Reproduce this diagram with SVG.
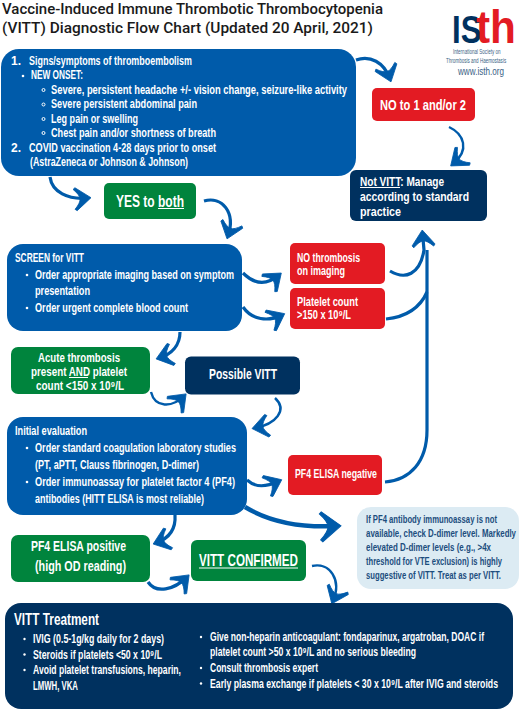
<svg xmlns="http://www.w3.org/2000/svg" width="520" height="711" viewBox="0 0 520 711">
<style>
text{font-family:"Liberation Sans Narrow","Liberation Sans",sans-serif;font-weight:700;fill:#fff;font-size:12px}
.title{font-family:"Roboto","Liberation Sans",sans-serif;font-weight:500;fill:#1a1a1a;font-size:15px}
.blue{fill:#005BAA}.navy{fill:#00315F}.red{fill:#E31B23}.green{fill:#00843D}.light{fill:#DCEBF3}
.dk{fill:#1C4E7E;font-size:10.500px}
.arrow{fill:none;stroke:#005BAA;stroke-width:3.2}
.thin{stroke-width:2.4}
.thick{stroke-width:4.5}
.bul{fill:#fff}
.ring{fill:none;stroke:#fff}
.ul{stroke:#fff;stroke-width:1}
.logo{font-weight:400;fill:#3B5F85}
</style>
<defs>
<marker id="head" markerUnits="userSpaceOnUse" markerWidth="26" markerHeight="30" refX="20" refY="15" orient="auto" viewBox="0 0 26 30">
<path d="M23 15L8 3.500L6 5Q12 11 12 15Q12 19 6 25L8 26.500Z" fill="#005BAA" stroke="#005BAA" stroke-width=".8"/>
</marker>
<marker id="headL" markerUnits="userSpaceOnUse" markerWidth="32" markerHeight="36" refX="25" refY="18" orient="auto" viewBox="0 0 32 36">
<path d="M29 18L10 3L8 5Q16 13 16 18Q16 23 8 31L10 33Z" fill="#005BAA" stroke="#005BAA"/>
</marker>
</defs>
<rect width="520" height="711" fill="#fff"/>
<g id="title">
<text class="title" x="2" y="14" textLength="381" lengthAdjust="spacingAndGlyphs">Vaccine-Induced Immune Thrombotic Thrombocytopenia</text>
<text class="title" x="2" y="33" textLength="371" lengthAdjust="spacingAndGlyphs">(VITT) Diagnostic Flow Chart (Updated 20 April, 2021)</text>
</g>
<g id="logo">
<text transform="translate(452 43) scale(.8 1)" style="font-size:39px;fill:#00315F">IS</text>
<text transform="translate(476 43) scale(.9 1)" style="font-size:47px;fill:#E31B23">th</text>
<text class="logo" transform="translate(453 54) scale(.7 1)" style="font-size:6.500px">International Society on</text>
<text class="logo" transform="translate(446 62.500) scale(.7 1)" style="font-size:6.500px">Thrombosis and Haemostasis</text>
<text class="logo" x="458" y="75" style="font-size:10px" textLength="46" lengthAdjust="spacingAndGlyphs">www.isth.org</text>
</g>
<g id="connectors">
<path class="arrow" marker-end="url(#head)" d="M356 60C370 55 384 62 390 79"/>
<path class="arrow thin" marker-end="url(#head)" d="M449 127C464 134 470 150 453 164"/>
<path class="arrow" marker-end="url(#head)" d="M50 177C52 192 68 200 88 198"/>
<path class="arrow" marker-end="url(#head)" d="M204 201C222 196 236 212 228 236"/>
<path class="arrow" marker-end="url(#head)" d="M243 273C254 284 266 286 279 275"/>
<path class="arrow" marker-end="url(#head)" d="M243 307C252 320 268 322 282 315"/>
<path class="arrow" marker-end="url(#head)" d="M180 332C180 345 172 354 159 358"/>
<path class="arrow thin" marker-end="url(#head)" d="M151 392C155 408 172 408 184 396"/>
<path class="arrow thin" marker-end="url(#head)" d="M275 398C288 410 276 424 255 428"/>
<path class="arrow" d="M385 482C410 480 427 462 427 430V250"/>
<path class="arrow" marker-end="url(#head)" d="M390 271C405 280 420 275 424 250L422.500 233"/>
<path class="arrow" d="M386 319C405 317 420 308 427 292"/>
<path class="arrow" marker-end="url(#head)" d="M247 480C256 488 266 487 279 481"/>
<path class="arrow thick" marker-end="url(#headL)" d="M245 507C270 522 300 528 337 526"/>
<path class="arrow" marker-end="url(#head)" d="M175 515C176 529 170 538 156 543"/>
<path class="arrow" marker-end="url(#head)" d="M148 582C156 594 174 590 187 577"/>
<path class="arrow thin" marker-end="url(#head)" d="M312 566C330 562 342 580 333 601"/>
</g>
<g id="symptoms">
<rect class="blue" x="1" y="49" width="355" height="127" rx="18"/>
<text x="11" y="65">1.</text>
<text x="29" y="65" textLength="163" lengthAdjust="spacingAndGlyphs">Signs/symptoms of thromboembolism</text>
<circle class="bul" cx="23" cy="76" r="1.300"/>
<text x="31" y="79" textLength="52" lengthAdjust="spacingAndGlyphs">NEW ONSET:</text>
<circle class="ring" cx="43.500" cy="90" r="1.500"/>
<text x="51" y="94" textLength="296" lengthAdjust="spacingAndGlyphs">Severe, persistent headache +/- vision change, seizure-like activity</text>
<circle class="ring" cx="43.500" cy="104.500" r="1.500"/>
<text x="51" y="108" textLength="146" lengthAdjust="spacingAndGlyphs">Severe persistent abdominal pain</text>
<circle class="ring" cx="43.500" cy="119" r="1.500"/>
<text x="51" y="123" textLength="87" lengthAdjust="spacingAndGlyphs">Leg pain or swelling</text>
<circle class="ring" cx="43.500" cy="133" r="1.500"/>
<text x="51" y="137" textLength="165" lengthAdjust="spacingAndGlyphs">Chest pain and/or shortness of breath</text>
<text x="11" y="152">2.</text>
<text x="29" y="152" textLength="187" lengthAdjust="spacingAndGlyphs">COVID vaccination 4-28 days prior to onset</text>
<text x="30" y="166" textLength="158" lengthAdjust="spacingAndGlyphs">(AstraZeneca or Johnson &amp; Johnson)</text>
</g>
<g id="no-1-2">
<rect class="red" x="372" y="88" width="103" height="33" rx="5"/>
<text x="380" y="110" style="font-size:14px" textLength="86" lengthAdjust="spacingAndGlyphs">NO to 1 and/or 2</text>
</g>
<g id="not-vitt">
<rect class="navy" x="350" y="170" width="137" height="51" rx="6"/>
<text x="360" y="186" style="font-size:13px" textLength="84" lengthAdjust="spacingAndGlyphs">Not VITT: Manage</text>
<line class="ul" x1="360" y1="187.500" x2="400" y2="187.500"/>
<text x="360" y="201" style="font-size:13px" textLength="109" lengthAdjust="spacingAndGlyphs">according to standard</text>
<text x="360" y="216" style="font-size:13px" textLength="41" lengthAdjust="spacingAndGlyphs">practice</text>
</g>
<g id="yes-both">
<rect class="green" x="104" y="183" width="92" height="36" rx="5"/>
<text x="116" y="207" style="font-size:16px" textLength="68" lengthAdjust="spacingAndGlyphs">YES to both</text>
<line class="ul" x1="158" y1="208.500" x2="184" y2="208.500"/>
</g>
<g id="screen">
<rect class="blue" x="7" y="244" width="235" height="87" rx="16"/>
<text x="15" y="262" textLength="69" lengthAdjust="spacingAndGlyphs">SCREEN for VITT</text>
<circle class="bul" cx="27" cy="275" r="1.300"/>
<text x="35" y="279" textLength="199" lengthAdjust="spacingAndGlyphs">Order appropriate imaging based on symptom</text>
<text x="35" y="295" textLength="55" lengthAdjust="spacingAndGlyphs">presentation</text>
<circle class="bul" cx="27" cy="308" r="1.300"/>
<text x="35" y="312" textLength="153" lengthAdjust="spacingAndGlyphs">Order urgent complete blood count</text>
</g>
<g id="no-thrombosis">
<rect class="red" x="290" y="243" width="95" height="41" rx="5"/>
<text x="297" y="262" textLength="63" lengthAdjust="spacingAndGlyphs">NO thrombosis</text>
<text x="297" y="275" textLength="48" lengthAdjust="spacingAndGlyphs">on imaging</text>
</g>
<g id="platelet-high">
<rect class="red" x="290" y="288" width="95" height="41" rx="5"/>
<text x="297" y="306" textLength="61" lengthAdjust="spacingAndGlyphs">Platelet count</text>
<text x="297" y="319" textLength="54" lengthAdjust="spacingAndGlyphs">&gt;150 x 10⁹/L</text>
</g>
<g id="acute">
<rect class="green" x="11" y="347" width="139" height="47" rx="7"/>
<text x="38" y="362" style="font-size:12.500px" textLength="82" lengthAdjust="spacingAndGlyphs">Acute thrombosis</text>
<text x="31" y="376" style="font-size:12.500px" textLength="96" lengthAdjust="spacingAndGlyphs">present AND platelet</text>
<line class="ul" x1="69" y1="377.500" x2="88" y2="377.500"/>
<text x="36" y="390" style="font-size:12.500px" textLength="88" lengthAdjust="spacingAndGlyphs">count &lt;150 x 10⁹/L</text>
</g>
<g id="possible">
<rect class="navy" x="185" y="356.500" width="115" height="38" rx="6"/>
<text x="209" y="379" style="font-size:15px" textLength="68" lengthAdjust="spacingAndGlyphs">Possible VITT</text>
</g>
<g id="initial">
<rect class="blue" x="7" y="417" width="240" height="98" rx="16"/>
<text x="15" y="435" textLength="72" lengthAdjust="spacingAndGlyphs">Initial evaluation</text>
<circle class="bul" cx="27" cy="448" r="1.300"/>
<text x="35" y="452" textLength="201" lengthAdjust="spacingAndGlyphs">Order standard coagulation laboratory studies</text>
<text x="35" y="469" textLength="164" lengthAdjust="spacingAndGlyphs">(PT, aPTT, Clauss fibrinogen, D-dimer)</text>
<circle class="bul" cx="27" cy="482" r="1.300"/>
<text x="35" y="486" textLength="200" lengthAdjust="spacingAndGlyphs">Order immunoassay for platelet factor 4 (PF4)</text>
<text x="35" y="503" textLength="169" lengthAdjust="spacingAndGlyphs">antibodies (HITT ELISA is most reliable)</text>
</g>
<g id="pf4-negative">
<rect class="red" x="288" y="455" width="94" height="40" rx="5"/>
<text x="295" y="478" textLength="82" lengthAdjust="spacingAndGlyphs">PF4 ELISA negative</text>
</g>
<g id="d-dimer-note">
<rect class="light" x="357" y="507" width="162" height="82" rx="14"/>
<text class="dk" transform="translate(366 523) scale(.75 1)" textLength="174.700" lengthAdjust="spacingAndGlyphs">If PF4 antibody immunoassay is not</text>
<text class="dk" transform="translate(366 537) scale(.75 1)" textLength="200" lengthAdjust="spacingAndGlyphs">available, check D-dimer level. Markedly</text>
<text class="dk" transform="translate(366 551) scale(.75 1)" textLength="166.700" lengthAdjust="spacingAndGlyphs">elevated D-dimer levels (e.g., &gt;4x</text>
<text class="dk" transform="translate(366 565) scale(.75 1)" textLength="181.300" lengthAdjust="spacingAndGlyphs">threshold for VTE exclusion) is highly</text>
<text class="dk" transform="translate(366 579) scale(.75 1)" textLength="180" lengthAdjust="spacingAndGlyphs">suggestive of VITT. Treat as per VITT.</text>
</g>
<g id="pf4-positive">
<rect class="green" x="11" y="535" width="139" height="47" rx="7"/>
<text x="31" y="551" style="font-size:14px" textLength="95" lengthAdjust="spacingAndGlyphs">PF4 ELISA positive</text>
<text x="35" y="571" style="font-size:14px" textLength="91" lengthAdjust="spacingAndGlyphs">(high OD reading)</text>
</g>
<g id="confirmed">
<rect class="green" x="191" y="540" width="115" height="41" rx="6"/>
<text x="199" y="566" style="font-size:17px" textLength="99" lengthAdjust="spacingAndGlyphs">VITT CONFIRMED</text>
<line class="ul" x1="199" y1="568" x2="298" y2="568"/>
</g>
<g id="treatment">
<rect class="navy" x="5" y="603" width="508" height="106" rx="16"/>
<text x="14" y="625" style="font-size:17px" textLength="85" lengthAdjust="spacingAndGlyphs">VITT Treatment</text>
<circle class="bul" cx="24.500" cy="639" r="1.200"/>
<text x="33" y="643" textLength="131" lengthAdjust="spacingAndGlyphs">IVIG (0.5-1g/kg daily for 2 days)</text>
<circle class="bul" cx="24.500" cy="654.500" r="1.200"/>
<text x="33" y="659" textLength="129" lengthAdjust="spacingAndGlyphs">Steroids if platelets &lt;50 x 10⁹/L</text>
<circle class="bul" cx="24.500" cy="670" r="1.200"/>
<text x="33" y="674" textLength="148" lengthAdjust="spacingAndGlyphs">Avoid platelet transfusions, heparin,</text>
<text x="33" y="690" textLength="45" lengthAdjust="spacingAndGlyphs">LMWH, VKA</text>
<circle class="bul" cx="201" cy="637" r="1.200"/>
<text x="210" y="641" textLength="274" lengthAdjust="spacingAndGlyphs">Give non-heparin anticoagulant: fondaparinux, argatroban, DOAC if</text>
<text x="210" y="656" textLength="206" lengthAdjust="spacingAndGlyphs">platelet count &gt;50 x 10⁹/L and no serious bleeding</text>
<circle class="bul" cx="201" cy="668" r="1.200"/>
<text x="210" y="672" textLength="108" lengthAdjust="spacingAndGlyphs">Consult thrombosis expert</text>
<circle class="bul" cx="201" cy="683.500" r="1.200"/>
<text x="210" y="688" textLength="288" lengthAdjust="spacingAndGlyphs">Early plasma exchange if platelets &lt; 30 x 10⁹/L after IVIG and steroids</text>
</g>
</svg>
